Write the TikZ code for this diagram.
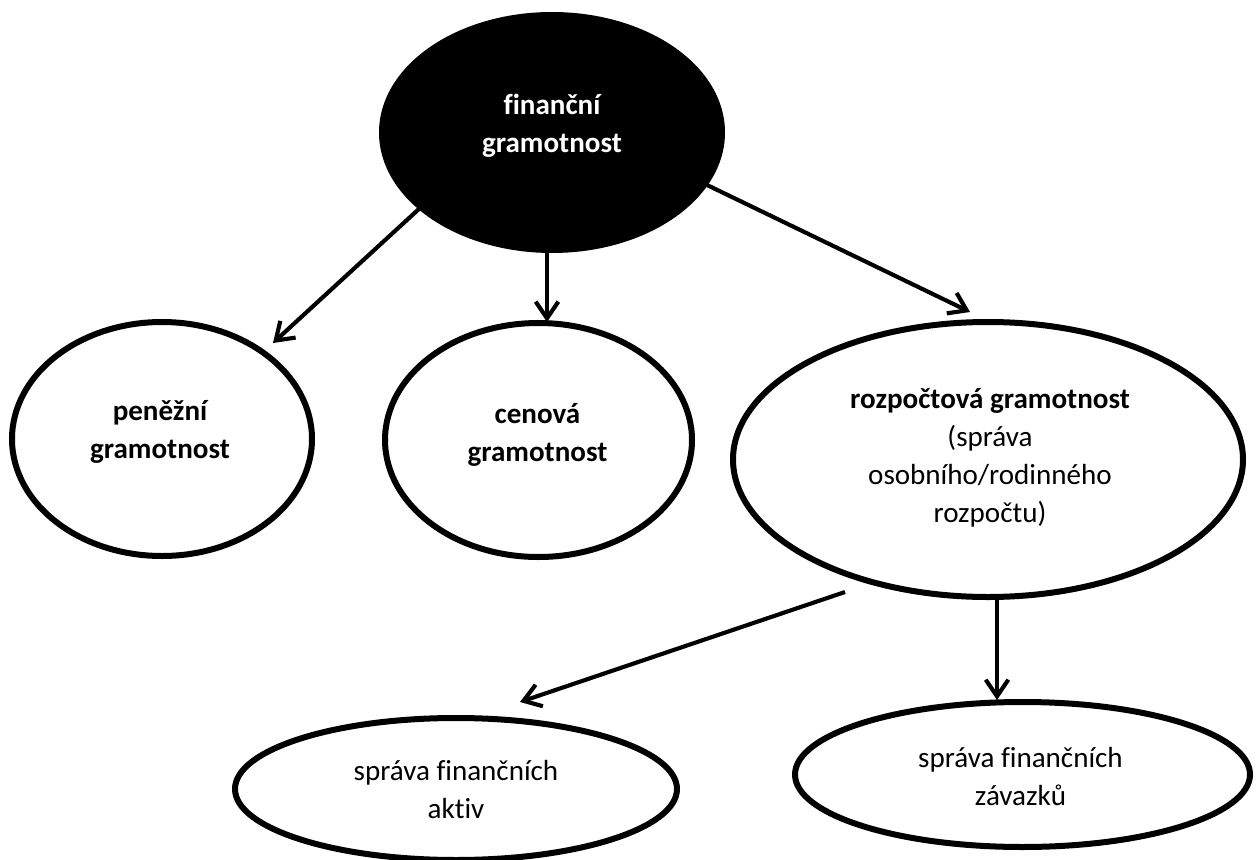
\documentclass[tikz,border=0pt]{standalone}
\usepackage{fontspec}
\setmainfont{Carlito}[Ligatures={NoCommon}]
\usetikzlibrary{shapes.geometric,arrows.meta,calc}

\tikzset{
  ell/.style={draw=black, ellipse, line width=4.5pt, inner sep=0pt, outer sep=0pt},
  lbl/.style={align=center, inner sep=0pt, font=\fontsize{21.8}{28.5}\selectfont},
  arr/.style={line width=3.1pt, -{Straight Barb[length=12.5pt,width=17pt]}},
}

\begin{document}
\begin{tikzpicture}[x=0.75pt, y=-0.75pt]
  \useasboundingbox (0,0) rectangle (1257,860);

  % ellipses
  \node[ell, fill=black, minimum width=255pt, minimum height=176.25pt] (fin) at (552,132.5) {};
  \node[ell, minimum width=225pt, minimum height=175.5pt] (pen) at (162,439) {};
  \node[ell, minimum width=230.25pt, minimum height=175.5pt] (cen) at (538.5,440) {};
  \node[ell, minimum width=382.5pt, minimum height=206.25pt] (roz) at (988,459.5) {};
  \node[ell, minimum width=331.5pt, minimum height=106.5pt] (akt) at (456,789) {};
  \node[ell, minimum width=341.25pt, minimum height=108.75pt] (zav) at (1022.5,774.5) {};

  % texts
  \node[lbl, text=white, font=\fontsize{21.8}{28.5}\selectfont\bfseries] (fin-t) at ($(fin)+(0,-6.5)$) {finanční\\gramotnost};
  \node[lbl, font=\fontsize{21.8}{28.5}\selectfont\bfseries] (pen-t) at ($(pen)+(-2,-7)$) {peněžní\\gramotnost};
  \node[lbl, font=\fontsize{21.8}{28.5}\selectfont\bfseries] (cen-t) at ($(cen)+(-1,-5)$) {cenová\\gramotnost};
  \node[lbl] (roz-t) at ($(roz)+(2,-2)$) {\textbf{rozpočtová gramotnost}\\(správa\\osobního/rodinného\\rozpočtu)};
  \node[lbl] (akt-t) at ($(akt)+(0,1)$) {správa finančních\\aktiv};
  \node[lbl] (zav-t) at ($(zav)+(-2,2.5)$) {správa finančních\\závazků};

  % connectors
  \draw[arr] ($(fin)+(-132,75.5)$) -- ($(pen)+(111,-96)$);
  \draw[arr] ($(fin)+(-5,117.5)$) -- ($(cen)+(8.5,-118)$);
  \draw[arr] ($(fin)+(155,52.5)$) -- ($(roz)+(-18,-147.5)$);
  \draw[arr] ($(roz)+(-143,132.5)$) -- ($(akt)+(64,-87)$);
  \draw[arr] ($(roz)+(9,137.5)$) -- ($(zav)+(-25.5,-74.5)$);
\end{tikzpicture}
\end{document}
